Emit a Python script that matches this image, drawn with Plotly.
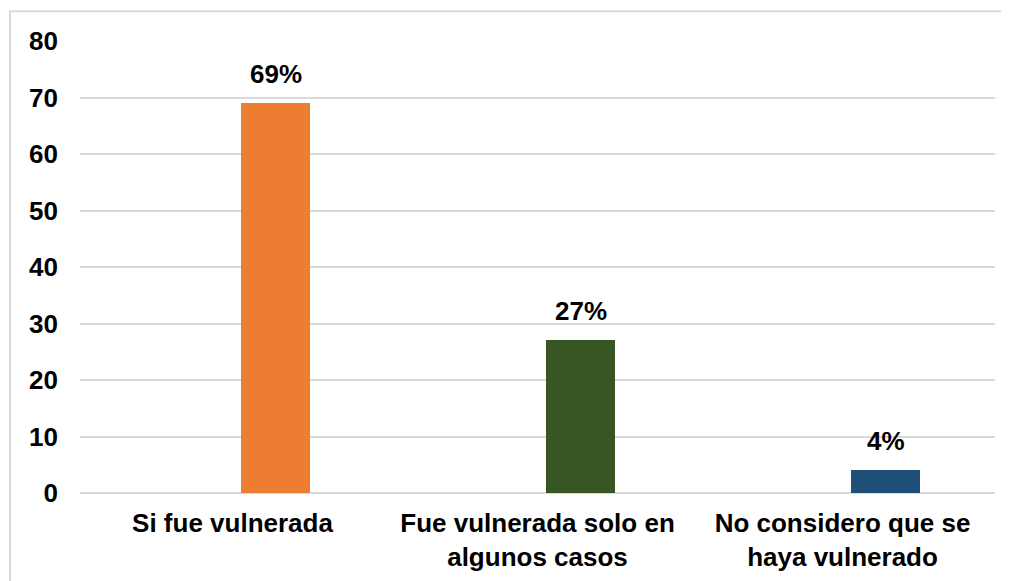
import plotly.graph_objects as go

# datos
categorias = ["Si fue vulnerada", "Fue vulnerada solo en<br>algunos casos", "No considero que se<br>haya vulnerado"]
valores = [69, 27, 4]
etiquetas = ["69%", "27%", "4%"]
colores = ["#ED7D31", "#375623", "#1F4E79"]
y_ticks = [0, 10, 20, 30, 40, 50, 60, 70, 80]

fig = go.Figure()

fig.add_trace(go.Bar(
    x=categorias,
    y=valores,
    marker=dict(color=colores, line=dict(width=0)),
    width=0.226,
    offset=0.028,
    hoverinfo="skip",
))

# etiquetas encima de cada barra
for cat, val, txt in zip(categorias, valores, etiquetas):
    fig.add_annotation(
        x=cat, y=val, text=txt, showarrow=False,
        xshift=43, yshift=12, yanchor="bottom",
        font=dict(size=26, color="black", family="Liberation Sans, Arial", weight="bold"),
    )

# la pagina tiene 8px de margen en el body
fig.update_layout(
    width=1001, height=573,
    margin=dict(l=72, r=14, t=33, b=88, autoexpand=False),
    paper_bgcolor="white", plot_bgcolor="white",
    font=dict(family="Liberation Sans, Arial", size=26, color="black", weight="bold"),
    showlegend=False,
    bargap=0,
    shapes=[dict(
        type="rect", xref="paper", yref="paper",
        x0=-0.0765, x1=1.03, y0=-0.25, y1=1.066,
        line=dict(color="#D9D9D9", width=2), fillcolor="rgba(0,0,0,0)", layer="below",
    )],
)

fig.update_xaxes(
    range=[-0.5, 2.5], showgrid=False, showline=False, zeroline=False, automargin=False,
    ticks="", tickfont=dict(size=26), ticklabelstandoff=12,
)
fig.update_yaxes(
    range=[0, 80], tickvals=y_ticks, showgrid=True, gridcolor="#D9D9D9", gridwidth=2,
    zeroline=True, zerolinecolor="#D9D9D9", zerolinewidth=2, showline=False, automargin=False,
    ticks="", tickfont=dict(size=26), ticklabelstandoff=21,
)

fig.write_html("out.html")
